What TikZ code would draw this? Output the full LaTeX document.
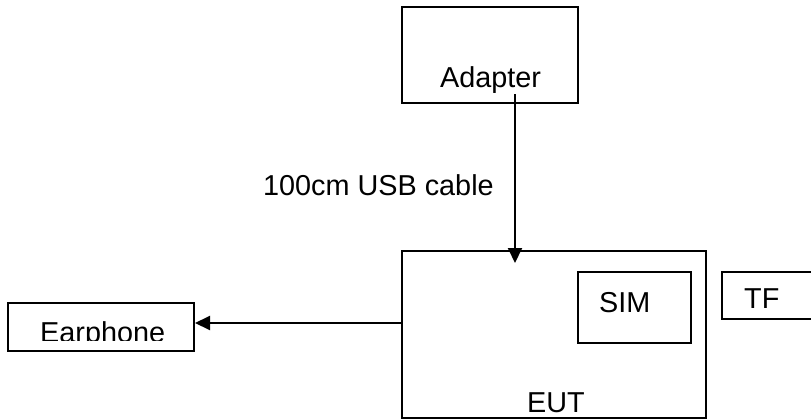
\documentclass[tikz,border=0pt]{standalone}
\usepackage{fontspec}
\setmainfont{Liberation Sans}
\usetikzlibrary{arrows.meta}
\begin{document}
\begin{tikzpicture}[x=1pt,y=-1pt,
  box/.style={draw,line width=2pt,inner sep=0pt},
  lbl/.style={inner sep=0pt,anchor=base west,font=\fontsize{28.8}{30}\selectfont},
  conn/.style={line width=2pt,-{Triangle[length=15pt,width=14pt]}}]
\useasboundingbox (0,0) rectangle (811,420);
\clip (0,0) rectangle (811,420);
% boxes
\node[box,minimum width=176pt,minimum height=96pt] (adapter) at (490,55) {};
\node[box,minimum width=304pt,minimum height=167pt] (eut) at (554,334.5) {};
\node[box,minimum width=113pt,minimum height=71pt] (sim) at (634.5,307.5) {};
\node[box,minimum width=108pt,minimum height=47pt] (tf) at (776,295.5) {};
\node[box,minimum width=186pt,minimum height=48pt] (earp) at (101,327) {};
% texts
\node[lbl] (tadapter) at (440,87) {Adapter};
\node[lbl] (tcable) at (263,195) {100cm USB cable};
\node[lbl] (tsim) at (599,312) {SIM};
\node[lbl] (ttf) at (744,308) {TF};
\node[lbl] (teut) at (527,412) {EUT};
\begin{scope}
\clip (0,300) rectangle (200,340.5);
\node[lbl] (tearp) at (40,342) {Earphone};
\end{scope}
% connectors
\coordinate (cabtop) at (515,94);
\coordinate (cabend) at (515,263);
\draw[conn] (cabtop) -- (cabend);
\coordinate (hp) at (402,323);
\draw[conn] (hp) -- (hp -| earp.east);
\end{tikzpicture}
\end{document}
